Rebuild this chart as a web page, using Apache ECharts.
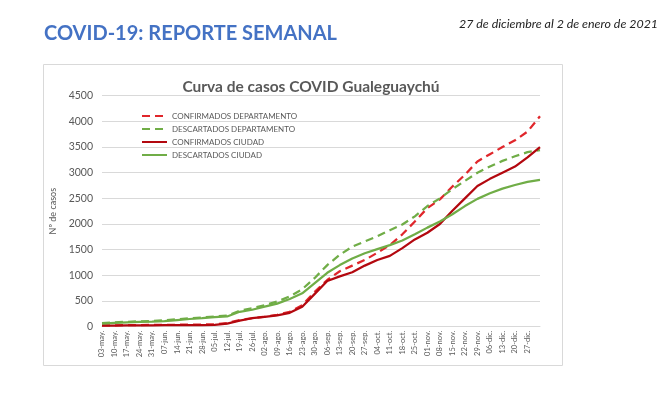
<!DOCTYPE html>
<html>
<head>
<meta charset="utf-8">
<script src="https://cdn.jsdelivr.net/npm/echarts@6/dist/echarts.min.js"></script>
<style>
  html, body { margin: 0; padding: 0; background: #fff; }
  #chart { width: 672px; height: 398px; }
</style>
</head>
<body>
<div id="chart"></div>
<script>
// semanas (domingos) desde el 03-may hasta fin de año
const weeks = ['03-may.', '10-may.', '17-may.', '24-may.', '31-may.', '07-jun.', '14-jun.', '21-jun.', '28-jun.',
  '05-jul.', '12-jul.', '19-jul.', '26-jul.', '02-ago.', '09-ago.', '16-ago.', '23-ago.', '30-ago.',
  '06-sep.', '13-sep.', '20-sep.', '27-sep.', '04-oct.', '11-oct.', '18-oct.', '25-oct.',
  '01-nov.', '08-nov.', '15-nov.', '22-nov.', '29-nov.', '06-dic.', '13-dic.', '20-dic.', '27-dic.', '02-ene.']

// valores
const confDepto = [25, 28, 30, 32, 34, 36, 38, 40, 42, 45, 70, 130, 165, 195, 230, 290, 420, 680,
  910, 1080, 1190, 1300, 1440, 1590, 1800, 2050, 2310, 2480, 2730, 2960, 3220, 3360, 3500, 3630, 3800, 4100]
const descDepto = [70, 85, 95, 105, 110, 125, 145, 165, 180, 200, 215, 310, 360, 420, 490, 590, 730, 950,
  1200, 1400, 1560, 1660, 1760, 1880, 1990, 2150, 2350, 2500, 2680, 2840, 3000, 3120, 3230, 3320, 3400, 3440]
const confCiudad = [20, 22, 25, 27, 28, 30, 30, 32, 33, 35, 60, 117, 165, 190, 220, 270, 390, 640,
  890, 980, 1060, 1190, 1300, 1380, 1530, 1700, 1830, 2000, 2260, 2500, 2740, 2880, 3000, 3120, 3300, 3500]
const descCiudad = [60, 75, 85, 95, 100, 110, 130, 150, 165, 185, 200, 290, 330, 390, 450, 540, 650, 850,
  1050, 1200, 1330, 1430, 1510, 1590, 1680, 1800, 1930, 2050, 2190, 2350, 2490, 2600, 2690, 2760, 2820, 2860]

const chart = echarts.init(document.getElementById('chart'))

const mkLine = (name, data, color, dashed) => ({
  name,
  type: 'line',
  data,
  symbol: 'none',
  smooth: false,
  lineStyle: { color, width: 2.25, type: dashed ? [8, 5] : 'solid' },
  itemStyle: { color }
})

chart.setOption({
  animation: false,
  textStyle: { fontFamily: 'Lato, "Open Sans", sans-serif' },
  title: [
    {
      text: 'COVID-19: REPORTE SEMANAL',
      left: 39, top: 19,
      textStyle: { fontSize: 20, fontWeight: 'bold', color: '#4472c4' }
    },
    {
      text: '27 de diciembre al 2 de enero de 2021',
      right: 9, top: 13,
      textStyle: { fontSize: 12.4, fontStyle: 'italic', fontWeight: 'normal', color: '#222' }
    },
    {
      text: 'Curva de casos COVID Gualeguaychú',
      left: 306, textAlign: 'center', top: 74,
      textStyle: { fontSize: 15.5, fontWeight: 'bold', color: '#595959' }
    }
  ],
  graphic: [{
    type: 'rect',
    shape: { x: 43.5, y: 64.5, width: 519, height: 301 },
    style: { fill: 'none', stroke: '#d9d9d9', lineWidth: 1 },
    z: -1
  }],
  legend: {
    orient: 'vertical',
    left: 136, top: 107,
    itemWidth: 25, itemHeight: 8, itemGap: 5,
    itemStyle: { opacity: 0 },
    textStyle: { fontSize: 8, color: '#595959' },
    data: ['CONFIRMADOS DEPARTAMENTO', 'DESCARTADOS DEPARTAMENTO', 'CONFIRMADOS CIUDAD', 'DESCARTADOS CIUDAD']
  },
  grid: { left: 102, right: 132, top: 95.7, bottom: 71.3 },
  xAxis: {
    type: 'category',
    data: weeks,
    boundaryGap: false,
    axisLine: { lineStyle: { color: '#d9d9d9' } },
    axisTick: { show: false },
    axisLabel: {
      interval: 0, rotate: 90, fontSize: 7.5, color: '#595959', margin: 4,
      formatter: (v, i) => (i < weeks.length - 1 ? v : '')
    }
  },
  yAxis: {
    type: 'value',
    min: 0, max: 4500, interval: 500,
    name: 'Nº de casos',
    nameLocation: 'middle',
    nameGap: 37,
    nameTextStyle: { fontSize: 9, color: '#595959' },
    axisLine: { show: false },
    axisTick: { show: false },
    axisLabel: { fontSize: 10.5, color: '#595959', margin: 9, formatter: v => String(v) },
    splitLine: { lineStyle: { color: '#d9d9d9' } }
  },
  series: [
    mkLine('CONFIRMADOS DEPARTAMENTO', confDepto, '#e0262b', true),
    mkLine('DESCARTADOS DEPARTAMENTO', descDepto, '#70ad47', true),
    mkLine('CONFIRMADOS CIUDAD', confCiudad, '#b3080f', false),
    mkLine('DESCARTADOS CIUDAD', descCiudad, '#70ad47', false)
  ]
})
</script>
</body>
</html>
